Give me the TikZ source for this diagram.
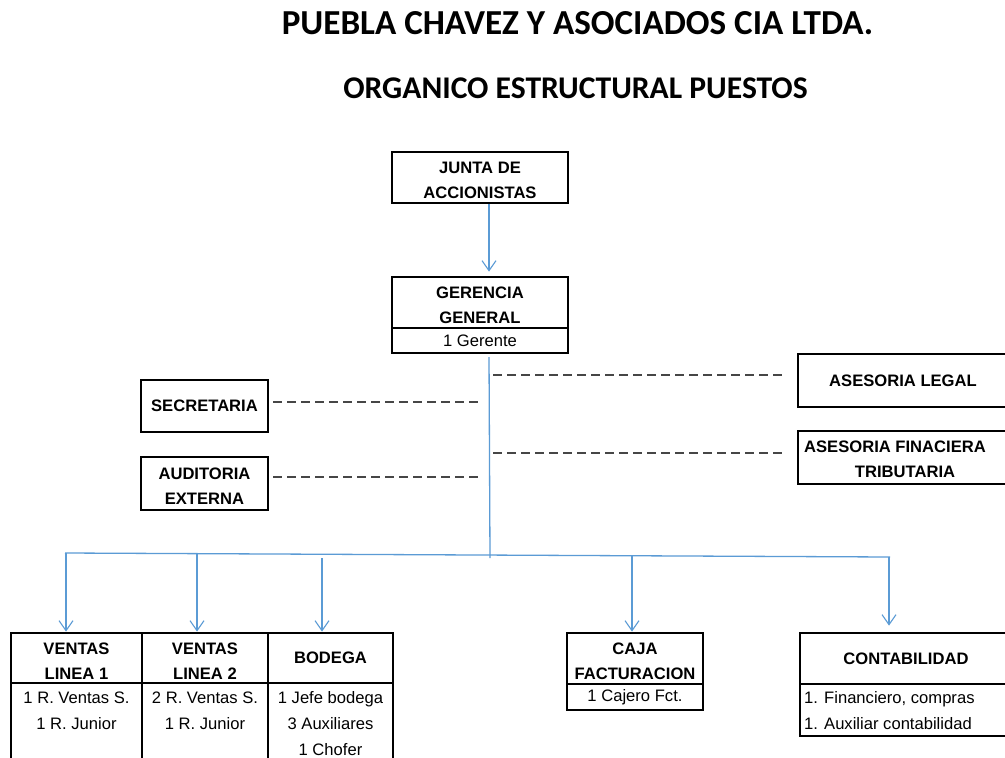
\documentclass[tikz,border=0pt]{standalone}
\usepackage{fontspec}
\setmainfont{Liberation Sans}
\newfontfamily\titlefont{Carlito}
\usetikzlibrary{arrows.meta}
\definecolor{lineblue}{RGB}{91,155,213}
\definecolor{dashgray}{RGB}{70,70,70}
\newcommand\toppad{\rule{0pt}{17.5pt}}
\tikzset{
  box/.style={draw=black, line width=2.8pt, inner sep=0pt, align=center,
    font=\bfseries\fontsize{16.6}{25}\selectfont},
  bodybox/.style={draw=black, line width=2.4pt, inner sep=0pt, align=center,
    font=\fontsize{16.6}{26}\selectfont},
  bodytext/.style={inner sep=0pt, font=\fontsize{16.6}{26}\selectfont},
  conn/.style={draw=lineblue, line width=1.3pt},
  arr/.style={conn, -{Straight Barb[length=10pt,width=14pt,line width=1.1pt]}},
  dashlink/.style={draw=dashgray, line width=1.2pt, dash pattern=on 9pt off 5pt},
  titletext/.style={inner sep=0pt, font=\titlefont\bfseries\fontsize{#1}{#1}\selectfont}
}
\begin{document}
\begin{tikzpicture}[x=1pt,y=-1pt]
\useasboundingbox (0,0) rectangle (1005,758);
\clip (0,0) rectangle (1005,758);
\fill[white] (0,0) rectangle (1005,758);

% titles
\node[titletext=35.1] (title1) at (577.5,23) {PUEBLA CHAVEZ Y ASOCIADOS CIA LTDA.};
\node[titletext=31.6] (title2) at (575.5,88) {ORGANICO ESTRUCTURAL PUESTOS};

% top boxes
\node[box, minimum width=176, minimum height=51] (junta) at (480,177.5) {\toppad JUNTA DE\\ACCIONISTAS};
\node[box, minimum width=176, minimum height=51] (gerh) at (480,302.5) {\toppad GERENCIA\\GENERAL};
\node[bodybox, minimum width=176, minimum height=25] (gerb) at (480,340.5) {1 Gerente};

% staff boxes
\node[box, minimum width=127, minimum height=52] (secr) at (204.5,406) {SECRETARIA};
\node[box, minimum width=127, minimum height=53] (audit) at (204.5,483.5) {\toppad AUDITORIA\\EXTERNA};
\node[box, minimum width=217, minimum height=53] (alegal) at (906.5,380.5) {};
\node[box, draw=none] (alegaltext) at (903,380.5) {ASESORIA LEGAL};
\node[box, minimum width=217, minimum height=53] (afin) at (906.5,457.5) {};
\node[box, draw=none] (afintext) at (895,459) {ASESORIA FINACIERA\\\hspace*{20pt}TRIBUTARIA};

% bottom boxes
\node[box, minimum width=131, minimum height=50] (v1h) at (76.5,658) {\toppad VENTAS\\LINEA 1};
\node[bodybox, minimum width=131, minimum height=107] (v1b) at (76.5,736.5) {};
\node[bodytext, anchor=north, align=center] (v1t) at (76.5,685) {\strut 1 R. Ventas S.\\\strut 1 R. Junior};

\node[box, minimum width=126, minimum height=50] (v2h) at (205,658) {\toppad VENTAS\\LINEA 2};
\node[bodybox, minimum width=126, minimum height=107] (v2b) at (205,736.5) {};
\node[bodytext, anchor=north, align=center] (v2t) at (205,685) {\strut 2 R. Ventas S.\\\strut 1 R. Junior};

\node[box, minimum width=125, minimum height=50] (bodh) at (330.5,658) {BODEGA};
\node[bodybox, minimum width=125, minimum height=107] (bodb) at (330.5,736.5) {};
\node[bodytext, anchor=north, align=center] (bodt) at (330.5,685) {\strut 1 Jefe bodega\\\strut 3 Auxiliares\\\strut 1 Chofer};

\node[box, minimum width=136, minimum height=51] (cajah) at (635,658.5) {\toppad CAJA\\FACTURACION};
\node[bodybox, minimum width=136, minimum height=26] (cajab) at (635,697) {1 Cajero Fct.};

\node[box, minimum width=215, minimum height=51] (conth) at (907.5,658.5) {};
\node[box, draw=none] (conttext) at (906,658.5) {CONTABILIDAD};
\node[bodybox, minimum width=215, minimum height=52] (contb) at (907.5,710) {};
\node[bodytext, anchor=north west, align=left] (contt) at (804,685) {\strut 1. Financiero, compras\\\strut 1. Auxiliar contabilidad};

% connectors
\coordinate (tx) at (489,0);
\coordinate (trunk) at (490,558);
\draw[arr, shorten >=4pt] (junta.south -| tx) -- (gerh.north -| tx);
\draw[conn, shorten <=3pt] (gerb.south -| tx) -- (trunk);

\coordinate (busL) at (65,553);
\coordinate (busR) at (890,557);
\draw[conn] (busL) -- (busR);
\coordinate (d1) at (66,553);
\coordinate (d2) at (197,553.6);
\coordinate (d3) at (322,558);
\coordinate (d4) at (632,555.7);
\coordinate (d5) at (889,557);
\draw[arr] (d1) -- (v1h.north -| d1);
\draw[arr] (d2) -- (v2h.north -| d2);
\draw[arr] (d3) -- (bodh.north -| d3);
\draw[arr] (d4) -- (cajah.north -| d4);
\draw[arr, shorten >=6pt] (d5) -- (conth.north -| d5);

% dashed staff links
\coordinate (r1) at (493,375);
\coordinate (r2) at (493,453);
\draw[dashlink, shorten >=10pt] (r1) -- (alegal.west |- r1);
\draw[dashlink, shorten >=10pt] (r2) -- (afin.west |- r2);
\coordinate (l1) at (482,402);
\coordinate (l2) at (482,477);
\draw[dashlink, shorten <=4pt] (secr.east |- l1) -- (l1);
\draw[dashlink, shorten <=4pt] (audit.east |- l2) -- (l2);
\end{tikzpicture}
\end{document}
